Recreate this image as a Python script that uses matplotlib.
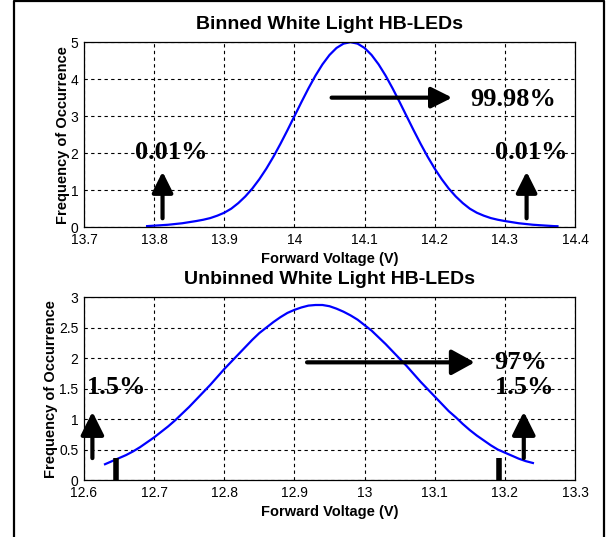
import matplotlib.pyplot as plt
from matplotlib.lines import Line2D

# Binned LEDs: frequency of occurrence vs forward voltage
binned_v = [13.79, 13.80, 13.81, 13.82, 13.83, 13.84, 13.85, 13.86, 13.87, 13.88,
            13.89, 13.90, 13.91, 13.92, 13.93, 13.94, 13.95, 13.96, 13.97, 13.98,
            13.99, 14.00, 14.01, 14.02, 14.03, 14.04, 14.05, 14.06, 14.07, 14.08,
            14.09, 14.10, 14.11, 14.12, 14.13, 14.14, 14.15, 14.16, 14.17, 14.18,
            14.19, 14.20, 14.21, 14.22, 14.23, 14.24, 14.25, 14.26, 14.27, 14.28,
            14.29, 14.30, 14.31, 14.32, 14.33, 14.34, 14.35, 14.36, 14.37, 14.375]
binned_freq = [0.028, 0.040, 0.052, 0.065, 0.085, 0.105, 0.135, 0.165, 0.20, 0.245,
               0.31, 0.39, 0.50, 0.65, 0.83, 1.044, 1.296, 1.582, 1.901, 2.249,
               2.617, 2.998, 3.380, 3.750, 4.095, 4.400, 4.653, 4.843, 4.960, 5.000,
               4.960, 4.843, 4.653, 4.400, 4.095, 3.750, 3.380, 2.998, 2.617, 2.249,
               1.901, 1.582, 1.296, 1.044, 0.83, 0.65, 0.50, 0.39, 0.31, 0.245,
               0.20, 0.165, 0.135, 0.105, 0.085, 0.065, 0.052, 0.040, 0.028, 0.025]

# Unbinned LEDs
unbinned_v = [12.63, 12.64, 12.65, 12.66, 12.67, 12.68, 12.69, 12.70, 12.71, 12.72,
              12.73, 12.74, 12.75, 12.76, 12.77, 12.78, 12.79, 12.80, 12.81, 12.82,
              12.83, 12.84, 12.85, 12.86, 12.87, 12.88, 12.89, 12.90, 12.91, 12.92,
              12.93, 12.94, 12.95, 12.96, 12.97, 12.98, 12.99, 13.00, 13.01, 13.02,
              13.03, 13.04, 13.05, 13.06, 13.07, 13.08, 13.09, 13.10, 13.11, 13.12,
              13.13, 13.14, 13.15, 13.16, 13.17, 13.18, 13.19, 13.20, 13.21, 13.22,
              13.23, 13.24]
unbinned_freq = [0.26, 0.31, 0.36, 0.41, 0.47, 0.54, 0.62, 0.70, 0.79, 0.88,
                 0.98, 1.09, 1.20, 1.32, 1.44, 1.56, 1.69, 1.82, 1.94, 2.06,
                 2.18, 2.30, 2.41, 2.50, 2.59, 2.67, 2.74, 2.79, 2.83, 2.86,
                 2.87, 2.87, 2.85, 2.81, 2.76, 2.70, 2.63, 2.54, 2.45, 2.34,
                 2.23, 2.11, 1.99, 1.87, 1.74, 1.61, 1.49, 1.37, 1.25, 1.13,
                 1.03, 0.92, 0.82, 0.73, 0.65, 0.57, 0.50, 0.45, 0.40, 0.35,
                 0.31, 0.28]

binned_xticks = [13.7, 13.8, 13.9, 14.0, 14.1, 14.2, 14.3, 14.4]
binned_xlabels = ['13.7', '13.8', '13.9', '14', '14.1', '14.2', '14.3', '14.4']
binned_yticks = [0, 1, 2, 3, 4, 5]
unbinned_xticks = [12.6, 12.7, 12.8, 12.9, 13.0, 13.1, 13.2, 13.3]
unbinned_xlabels = ['12.6', '12.7', '12.8', '12.9', '13', '13.1', '13.2', '13.3']
unbinned_yticks = [0, 0.5, 1, 1.5, 2, 2.5, 3]
unbinned_ylabels = ['0', '0.5', '1', '1.5', '2', '2.5', '3']

binned_pct = ['0.01%', '99.98%', '0.01%']
unbinned_pct = ['1.5%', '97%', '1.5%']

sans = 'Liberation Sans'
serif = 'Liberation Serif'

fig = plt.figure(figsize=(6.13, 5.37), dpi=100)
ax1 = fig.add_axes([0.137, 0.577, 0.801, 0.3445])
ax2 = fig.add_axes([0.137, 0.106, 0.801, 0.3408])


def style_axes(ax, xt, xl, yt, yl, title):
    ax.set_xticks(xt)
    ax.set_xticklabels(xl, fontfamily=sans, fontsize=10)
    ax.set_yticks(yt)
    ax.set_yticklabels(yl, fontfamily=sans, fontsize=10)
    ax.set_xlim(xt[0], xt[-1])
    ax.set_ylim(yt[0], yt[-1])
    ax.tick_params(axis='x', length=0, pad=4.5)
    ax.tick_params(axis='y', length=0, pad=4)
    ax.grid(True, color='black', linestyle=(0, (3, 3)), linewidth=0.8)
    ax.set_axisbelow(True)
    for s in ax.spines.values():
        s.set_linewidth(0.9)
    ax.set_title(title, fontfamily=sans, fontweight='bold', fontsize=14, pad=9.5)
    ax.set_xlabel('Forward Voltage (V)', fontfamily=sans, fontweight='bold',
                  fontsize=10.5, labelpad=3.5)
    ax.set_ylabel('Frequency of Occurrence', fontfamily=sans, fontweight='bold',
                  fontsize=10.5, labelpad=0.5)


def arrow(ax, x0, y0, x1, y1, hl=0.9, hw=0.45):
    ax.annotate('', xy=(x1, y1), xytext=(x0, y0),
                arrowprops=dict(arrowstyle='-|>,head_length=%s,head_width=%s' % (hl, hw),
                                color='black', lw=3, mutation_scale=14,
                                shrinkA=0, shrinkB=0))


def pct(ax, text, x, y):
    ax.text(x, y, text, fontfamily=serif, fontweight='bold', fontsize=19,
            ha='center', va='center')


# top panel
style_axes(ax1, binned_xticks, binned_xlabels, binned_yticks,
           [str(t) for t in binned_yticks], 'Binned White Light HB-LEDs')
ax1.plot(binned_v, binned_freq, color='#0000ff', lw=1.6)
arrow(ax1, 13.812, 0.24, 13.812, 1.5)
arrow(ax1, 14.331, 0.24, 14.331, 1.5)
arrow(ax1, 14.053, 3.5, 14.225, 3.5)
pct(ax1, binned_pct[0], 13.824, 2.03)
pct(ax1, binned_pct[1], 14.312, 3.46)
pct(ax1, binned_pct[2], 14.337, 2.03)

# bottom panel
style_axes(ax2, unbinned_xticks, unbinned_xlabels, unbinned_yticks,
           unbinned_ylabels, 'Unbinned White Light HB-LEDs')
ax2.plot(unbinned_v, unbinned_freq, color='#0000ff', lw=1.6)
ax2.plot([12.645, 12.645], [0, 0.36], color='black', lw=4, solid_capstyle='butt')
ax2.plot([13.192, 13.192], [0, 0.36], color='black', lw=4, solid_capstyle='butt')
arrow(ax2, 12.612, 0.36, 12.612, 1.12, hl=1.0, hw=0.5)
arrow(ax2, 13.227, 0.36, 13.227, 1.12, hl=1.0, hw=0.5)
arrow(ax2, 12.918, 1.93, 13.157, 1.93, hl=1.0, hw=0.55)
pct(ax2, unbinned_pct[0], 12.646, 1.51)
pct(ax2, unbinned_pct[1], 13.223, 1.92)
pct(ax2, unbinned_pct[2], 13.228, 1.51)

# outer frame (open at the bottom)
x_l, x_r, y_t = 13.5 / 613, 603.5 / 613, 1 - 1 / 537
fig.add_artist(Line2D([x_l, x_l, x_r, x_r], [0, y_t, y_t, 0],
                      transform=fig.transFigure, color='black', lw=1.6))

fig.savefig('out.png', dpi=100, facecolor='white')
